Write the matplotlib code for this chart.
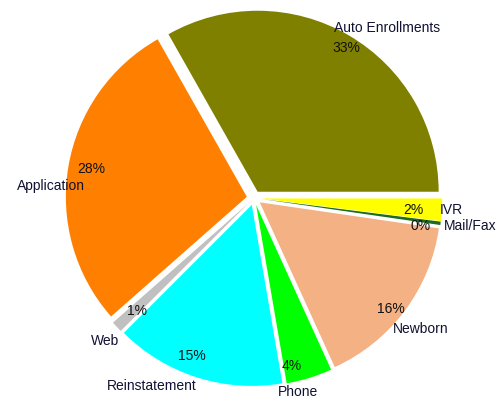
import numpy as np
import matplotlib.pyplot as plt

# datos del grafico
categorias = ['Auto Enrollments', 'Application', 'Web', 'Reinstatement',
              'Phone', 'Newborn', 'Mail/Fax', 'IVR']
valores = [33.2, 28.3, 1.0, 15.2, 4.1, 15.9, 0.3, 2.0]
colores = ['#808000', '#FF8000', '#C0C0C0', '#00FFFF',
           '#00FF00', '#F4B183', '#1E6B1E', '#FFFF00']

# desplazamientos de los textos (pixeles) respecto al borde de cada porcion
off_pct = [(1, -6), (16, -1), (15, 11), (-7, 14),
           (-16, 5), (-8, -2), (-13, -4), (-21, -1)]
off_lab = [(42, 14), (-25, -18), (-17, -19), (-47, -16),
           (-9, -21), (22, -22), (37, -4), (17, -1)]

# geometria en pixeles de la imagen
ancho, alto = 499, 403
cx, cy, radio = 254, 198, 181

fig = plt.figure(figsize=(ancho / 100, alto / 100), dpi=100)
ax = fig.add_axes([0, 0, 1, 1])

wedges, _ = ax.pie(valores, colors=colores, explode=[0.04] * len(valores),
                   startangle=0, counterclock=True, radius=1,
                   wedgeprops=dict(linewidth=0))

total = sum(valores)
for w, cat, v, op, ol in zip(wedges, categorias, valores, off_pct, off_lab):
    ang = np.deg2rad((w.theta1 + w.theta2) / 2)
    punto = (np.cos(ang), np.sin(ang))
    ax.annotate(f'{100 * v / total:.0f}%', xy=punto, xytext=op,
                textcoords='offset pixels', ha='center', va='center',
                fontsize=10, family='Liberation Sans', color='#111111')
    ax.annotate(cat, xy=punto, xytext=ol,
                textcoords='offset pixels', ha='center', va='center',
                fontsize=10, family='Liberation Sans', color='#111133')

ax.set_xlim(-cx / radio, (ancho - cx) / radio)
ax.set_ylim(-(alto - cy) / radio, cy / radio)
ax.set_axis_off()

fig.savefig('out.png', dpi=100)
